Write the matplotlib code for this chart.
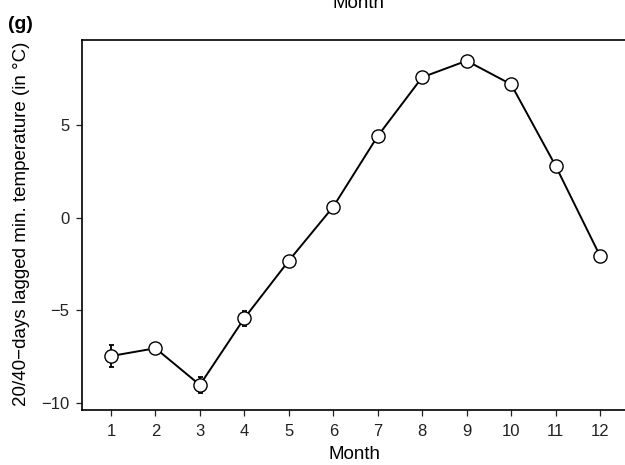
import matplotlib
matplotlib.use("Agg")
import matplotlib.pyplot as plt

plt.rcParams["font.family"] = ["Liberation Sans", "DejaVu Sans"]

# monthly mean of 20/40-day lagged minimum temperature, with error
months = [1, 2, 3, 4, 5, 6, 7, 8, 9, 10, 11, 12]
temp = [-7.46, -7.04, -9.02, -5.42, -2.32, 0.59, 4.40, 7.57, 8.46, 7.19, 2.80, -2.06]
err = [0.57, 0.2, 0.43, 0.40, 0.2, 0.15, 0.15, 0.1, 0.1, 0.1, 0.15, 0.15]
y_ticks = [-10, -5, 0, 5]

W, H = 625, 465
fig = plt.figure(figsize=(W / 100, H / 100), dpi=100)
ax = fig.add_axes([82 / W, 1 - 410 / H, 1 - 82 / W, (410 - 40) / H])

ax.errorbar(months, temp, yerr=err, fmt="none", ecolor="black",
            elinewidth=1.3, capsize=1.8, capthick=1.3, zorder=2)
ax.plot(months, temp, color="black", lw=1.4, marker="o", ms=9.5,
        mfc="white", mec="black", mew=1.0, zorder=3)

ax.set_xlim(0.348, 12.562)
ax.set_ylim(-10.37, 9.58)
ax.set_xticks(months)
ax.set_yticks(y_ticks)
ax.set_yticklabels(["\u221210", "\u22125", "0", "5"])

for side in ["left", "top", "bottom"]:
    ax.spines[side].set_linewidth(1.2)
ax.spines["right"].set_visible(False)
ax.tick_params(direction="out", length=4, width=0.9, labelsize=12, pad=6,
               colors="#222222")
ax.tick_params(axis="y", pad=5)

fig.text(22 / W, 1 - 224 / H, "20/40\u2212days lagged min. temperature (in \u00b0C)",
         rotation=90, ha="center", va="center", fontsize=13.5)
fig.text(355 / W, 1 - 459 / H, "Month", ha="center", va="baseline", fontsize=13.5)
# label of the panel above, cut off at the top edge
fig.text(359 / W, 1 - 8 / H, "Month", ha="center", va="baseline", fontsize=13.5)
fig.text(8 / W, 1 - 29 / H, "(g)", ha="left", va="baseline", fontsize=14,
         fontweight="bold")

fig.savefig("out.png", dpi=100)
